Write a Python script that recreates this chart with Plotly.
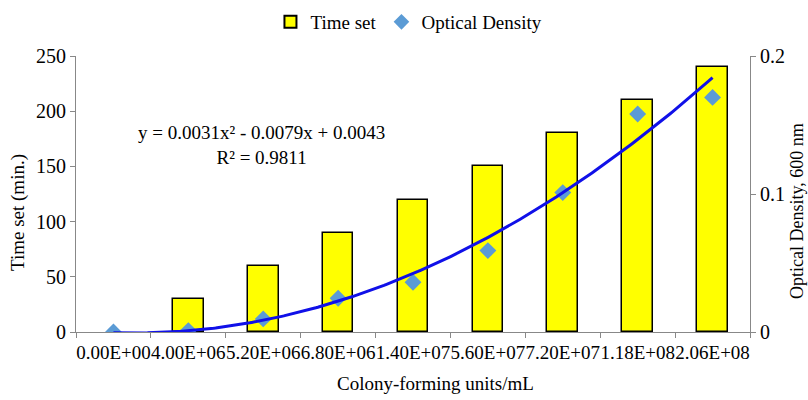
import numpy as np
import plotly.graph_objects as go

cfu_labels = ["0.00E+00", "4.00E+06", "5.20E+06", "6.80E+06", "1.40E+07",
              "5.60E+07", "7.20E+07", "1.18E+08", "2.06E+08"]
time_set = [0, 30, 60, 90, 120, 150, 180, 210, 240]
optical_density = [0.0, 0.001, 0.0095, 0.0245, 0.036, 0.059, 0.101, 0.158, 0.170]
trend_coef = [0.0031, -0.0079, 0.0043]  # y = a x^2 + b x + c (x = point index 1..n)
eq_text = "y = 0.0031x² - 0.0079x + 0.0043<br>R² = 0.9811"
x_title = "Colony-forming units/mL"
y_title = "Time set (min.)"
y2_title = "Optical Density, 600 nm"

n = len(cfu_labels)
xpos = list(range(1, n + 1))
xs = np.linspace(1, n, 300)
ys = np.polyval(trend_coef, xs)

FONT = "Liberation Serif"
ML, MR, MT, MB = 76, 58, 56, 68
W, H = 808, 400
pw, ph = W - ML - MR, H - MT - MB


def px(xp):
    return (xp - ML) / pw


def py(yp):
    return (H - MB - yp) / ph


fig = go.Figure()
fig.add_trace(go.Bar(
    x=xpos, y=time_set, name="Time set", width=0.41,
    marker=dict(color="#FFFF00",
                line=dict(color="black", width=[1.5 if v > 0 else 0 for v in time_set])),
))
fig.add_trace(go.Scatter(
    x=xpos, y=optical_density, name="Optical Density", mode="markers", yaxis="y2",
    marker=dict(symbol="diamond", size=13, color="#5B9BD5"),
))
fig.add_trace(go.Scatter(
    x=xs, y=ys, mode="lines", yaxis="y2", showlegend=False, hoverinfo="skip",
    line=dict(color="#1010E8", width=3),
))

fig.update_layout(
    width=W, height=H,
    margin=dict(l=ML, r=MR, t=MT, b=MB, autoexpand=False),
    paper_bgcolor="white", plot_bgcolor="white",
    font=dict(family=FONT, size=19, color="black"),
    showlegend=True,
    legend=dict(orientation="h", x=0.494, xanchor="center", xref="paper",
                y=1 - 22 / H, yanchor="middle", yref="container",
                font=dict(size=19), itemsizing="constant", itemwidth=30),
    xaxis=dict(
        range=[0.5, n + 0.5], tickmode="array", tickvals=xpos, ticktext=cfu_labels,
        tickangle=0, showgrid=False, zeroline=False,
        showline=True, linecolor="#888888", linewidth=1,
        ticks="outside", ticklen=3, tickcolor="rgba(0,0,0,0)",
        minor=dict(tickmode="array", tickvals=[i + 0.5 for i in range(0, n + 1)],
                   ticks="outside", ticklen=5, tickcolor="#888888", showgrid=False),
        tickfont=dict(size=19),
    ),
    yaxis=dict(
        range=[0, 250], dtick=50, showgrid=False, zeroline=False,
        showline=True, linecolor="#888888", linewidth=1,
        ticks="outside", ticklen=5, tickcolor="#888888",
        tickfont=dict(size=20),
    ),
    yaxis2=dict(
        range=[0, 0.2], dtick=0.1, overlaying="y", side="right",
        showgrid=False, zeroline=False,
        showline=True, linecolor="#888888", linewidth=1,
        ticks="outside", ticklen=5, tickcolor="#888888",
        tickfont=dict(size=20),
    ),
    bargap=0,
)
common = dict(xref="paper", yref="paper", xanchor="center", yanchor="middle",
              showarrow=False)
fig.add_annotation(x=px(261), y=py(145), text=eq_text, font=dict(size=19),
                   align="center", **common)
fig.add_annotation(x=px(435), y=py(383), text=x_title, font=dict(size=19), **common)
fig.add_annotation(x=px(18), y=py(213), text=y_title, font=dict(size=19),
                   textangle=-90, **common)
fig.add_annotation(x=px(797), y=py(211), text=y2_title, font=dict(size=18),
                   textangle=-90, **common)

fig.write_html("out.html", config={"displayModeBar": False},
               post_script="document.body.style.margin='0';")
